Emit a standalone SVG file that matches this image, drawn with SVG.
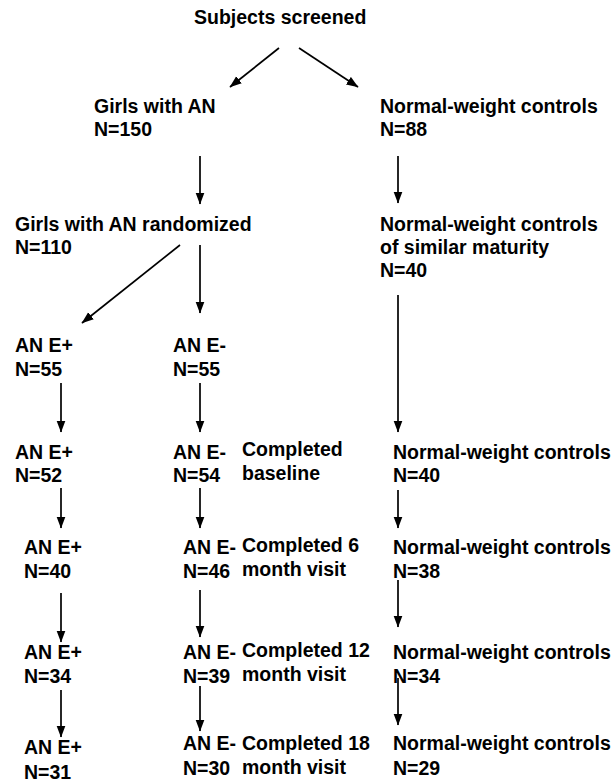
<svg xmlns="http://www.w3.org/2000/svg" width="615" height="783" viewBox="0 0 615 783">
<style>
text{font-family:"Liberation Sans",Arial,sans-serif;font-weight:bold;font-size:19.5px;fill:#000}
.c line{stroke:#000;stroke-width:1.7;marker-end:url(#ah)}
</style>
<defs>
<marker id="ah" markerUnits="userSpaceOnUse" markerWidth="13" markerHeight="10" refX="11.5" refY="4.5" orient="auto">
<path d="M0,0 L12,4.5 L0,9 z" fill="#000"/>
</marker>
</defs>
<rect width="615" height="783" fill="#fff"/>
<g id="screened"><text x="194" y="24">Subjects screened</text></g>
<g id="girls"><text x="94" y="113">Girls with AN</text><text x="94" y="136">N=150</text></g>
<g id="nwc1"><text x="380" y="113">Normal-weight controls</text><text x="380" y="136">N=88</text></g>
<g id="rand"><text x="15" y="231">Girls with AN randomized</text><text x="15" y="254">N=110</text></g>
<g id="nwc2"><text x="380" y="231">Normal-weight controls</text><text x="380" y="254">of similar maturity</text><text x="380" y="277">N=40</text></g>
<g id="ep1"><text x="15" y="352">AN E+</text><text x="15" y="376">N=55</text></g>
<g id="em1"><text x="173" y="352">AN E-</text><text x="173" y="376">N=55</text></g>
<g id="ep2"><text x="15" y="459">AN E+</text><text x="15" y="482">N=52</text></g>
<g id="em2"><text x="173" y="459">AN E-</text><text x="173" y="482">N=54</text></g>
<g id="lab2"><text x="242" y="456">Completed</text><text x="242" y="480">baseline</text></g>
<g id="nwc3"><text x="393" y="459">Normal-weight controls</text><text x="393" y="482">N=40</text></g>
<g id="ep3"><text x="24" y="554">AN E+</text><text x="24" y="578">N=40</text></g>
<g id="em3"><text x="183" y="554">AN E-</text><text x="183" y="578">N=46</text></g>
<g id="lab3"><text x="242" y="552">Completed 6</text><text x="242" y="576">month visit</text></g>
<g id="nwc4"><text x="393" y="554">Normal-weight controls</text><text x="393" y="578">N=38</text></g>
<g id="ep4"><text x="24" y="659">AN E+</text><text x="24" y="683">N=34</text></g>
<g id="em4"><text x="183" y="659">AN E-</text><text x="183" y="683">N=39</text></g>
<g id="lab4"><text x="242" y="657">Completed 12</text><text x="242" y="681">month visit</text></g>
<g id="nwc5"><text x="393" y="659">Normal-weight controls</text><text x="393" y="683">N=34</text></g>
<g id="ep5"><text x="24" y="754">AN E+</text><text x="24" y="779">N=31</text></g>
<g id="em5"><text x="183" y="750">AN E-</text><text x="183" y="775">N=30</text></g>
<g id="lab5"><text x="242" y="750">Completed 18</text><text x="242" y="774">month visit</text></g>
<g id="nwc6"><text x="393" y="750">Normal-weight controls</text><text x="393" y="775">N=29</text></g>
<g id="connectors" class="c">
<line x1="279" y1="48" x2="230" y2="87"/>
<line x1="299" y1="48" x2="358" y2="87"/>
<line x1="200" y1="156" x2="200" y2="204"/>
<line x1="398" y1="156" x2="398" y2="203"/>
<line x1="180" y1="245" x2="82" y2="323"/>
<line x1="200" y1="245" x2="200" y2="313"/>
<line x1="398" y1="295" x2="398" y2="432"/>
<line x1="61" y1="383" x2="61" y2="432"/>
<line x1="200" y1="383" x2="200" y2="432"/>
<line x1="61" y1="488" x2="61" y2="528"/>
<line x1="200" y1="488" x2="200" y2="528"/>
<line x1="398" y1="490" x2="398" y2="528"/>
<line x1="61" y1="593" x2="61" y2="642"/>
<line x1="200" y1="590" x2="200" y2="637"/>
<line x1="398" y1="580" x2="398" y2="627"/>
<line x1="61" y1="690" x2="61" y2="737"/>
<line x1="200" y1="686" x2="200" y2="731"/>
<line x1="398" y1="678" x2="398" y2="725"/>
</g>
</svg>
